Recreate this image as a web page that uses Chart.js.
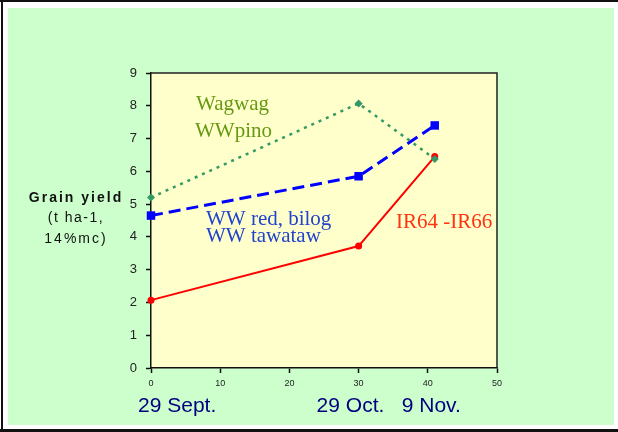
<!DOCTYPE html>
<html>
<head>
<meta charset="utf-8">
<script src="https://cdn.jsdelivr.net/npm/chart.js@4"></script>
<style>
  html, body { margin: 0; padding: 0; background: #ffffff; }
  #wrap { width: 618px; height: 432px; position: relative; }
</style>
</head>
<body>
<div id="wrap"><canvas id="c" width="618" height="432"></canvas></div>
<script>
// Days after 29 September when each crop was sown
const sowingDays = [0, 30, 41];
const dateLabels = ['29 Sept.', '29 Oct.', '9 Nov.'];

// Grain yield (t/ha, 14% moisture) per variety group
const wagwagYield = [5.2, 8.07, 6.38];
const wwRedYield  = [4.65, 5.85, 7.4];
const irYield     = [2.07, 3.72, 6.45];

const groupNames = [['Wagwag', 'WWpino'], ['WW red, bilog', 'WW tawataw'], ['IR64 -IR66']];
const yTitle = ['Grain yield', '(t ha-1,', '14%mc)'];
const yTicks = [0, 1, 2, 3, 4, 5, 6, 7, 8, 9];
const xTicks = [0, 10, 20, 30, 40, 50];

const toPoints = (ys) => sowingDays.map((d, i) => ({ x: d, y: ys[i] }));

// Page frame, green panel and the yellow plot box
const framePlugin = {
  id: 'frame',
  beforeDraw(chart) {
    const { ctx, chartArea: a } = chart;
    ctx.save();
    ctx.fillStyle = '#ffffff';
    ctx.fillRect(0, 0, 618, 432);
    ctx.fillStyle = '#ccffcc';
    ctx.fillRect(8, 8, 606, 417);
    // dark rule on top, left and bottom
    ctx.fillStyle = '#111111';
    ctx.fillRect(0, 0, 618, 2);
    ctx.fillRect(1, 0, 2, 432);
    ctx.fillRect(0, 429, 618, 3);
    ctx.fillStyle = '#ffffcc';
    ctx.fillRect(a.left, a.top, a.right - a.left, a.bottom - a.top);
    ctx.restore();
  },
  afterDatasetsDraw(chart) {
    const { ctx, chartArea: a } = chart;
    ctx.save();
    ctx.strokeStyle = '#222222';
    ctx.lineWidth = 1.5;
    ctx.beginPath();
    ctx.moveTo(a.left, a.top);
    ctx.lineTo(a.right, a.top);
    ctx.lineTo(a.right, a.bottom);
    ctx.stroke();
    ctx.restore();
  }
};

// Axis title, group names and sowing dates
const textPlugin = {
  id: 'texts',
  afterDraw(chart) {
    const { ctx, scales } = chart;
    ctx.save();
    ctx.textBaseline = 'middle';
    ctx.textAlign = 'center';
    ctx.fillStyle = '#111111';
    ctx.letterSpacing = '2px';
    ctx.font = 'bold 14px "Liberation Sans", Arial, sans-serif';
    ctx.fillText(yTitle[0], 76, 198);
    ctx.letterSpacing = '1.5px';
    ctx.font = '14px "Liberation Sans", Arial, sans-serif';
    ctx.fillText(yTitle[1], 76, 218);
    ctx.letterSpacing = '2px';
    ctx.fillText(yTitle[2], 76, 239);
    ctx.letterSpacing = '0px';

    ctx.textAlign = 'left';
    ctx.font = '21px "Liberation Serif", "Times New Roman", serif';
    ctx.fillStyle = '#669911';
    ctx.fillText(groupNames[0][0], 196, 104);
    ctx.fillText(groupNames[0][1], 195, 131);
    ctx.fillStyle = '#2244cc';
    ctx.fillText(groupNames[1][0], 206, 219);
    ctx.fillText(groupNames[1][1], 206, 236);
    ctx.fillStyle = '#ff3311';
    ctx.fillText(groupNames[2][0], 396, 222);

    ctx.fillStyle = '#000080';
    ctx.font = '21px "Liberation Sans", Arial, sans-serif';
    const offsets = [-13, -42, -33];
    sowingDays.forEach((d, i) => {
      ctx.fillText(dateLabels[i], scales.x.getPixelForValue(d) + offsets[i], 406);
    });
    ctx.restore();
  }
};

new Chart(document.getElementById('c'), {
  type: 'scatter',
  data: {
    datasets: [
      {
        label: groupNames[0].join(' '),
        data: toPoints(wagwagYield),
        showLine: true,
        borderColor: '#339966',
        backgroundColor: '#339966',
        borderWidth: 2.5,
        borderDash: [3, 5],
        pointStyle: 'rectRot',
        pointRadius: 4,
        pointBorderWidth: 0,
        clip: false
      },
      {
        label: groupNames[1].join(' '),
        data: toPoints(wwRedYield),
        showLine: true,
        borderColor: '#0000ff',
        backgroundColor: '#0000ff',
        borderWidth: 3,
        borderDash: [12, 6],
        pointStyle: 'rect',
        pointRadius: 6,
        pointBorderWidth: 0,
        clip: false
      },
      {
        label: groupNames[2][0],
        data: toPoints(irYield),
        showLine: true,
        borderColor: '#ff0000',
        backgroundColor: '#ff0000',
        borderWidth: 2,
        pointStyle: 'circle',
        pointRadius: 3.5,
        pointBorderWidth: 0,
        clip: false
      }
    ]
  },
  options: {
    responsive: false,
    animation: false,
    events: [],
    layout: { padding: { left: 0, right: 121, top: 73, bottom: 44 } },
    plugins: { legend: { display: false }, tooltip: { enabled: false } },
    scales: {
      x: {
        type: 'linear',
        min: 0,
        max: 50,
        afterBuildTicks: (s) => { s.ticks = xTicks.map(v => ({ value: v })); },
        afterFit: (s) => { s.height = 20; },
        grid: { drawOnChartArea: false, color: '#111111', tickLength: 5, tickWidth: 1.5 },
        border: { color: '#111111', width: 1.5 },
        ticks: { font: { size: 9, family: '"Liberation Sans", Arial, sans-serif' }, color: '#222222', padding: 5, maxRotation: 0 }
      },
      y: {
        min: 0,
        max: 9,
        afterBuildTicks: (s) => { s.ticks = yTicks.map(v => ({ value: v })); },
        afterFit: (s) => { s.width = 151; },
        grid: { drawOnChartArea: false, color: '#111111', tickLength: 5, tickWidth: 1.5 },
        border: { color: '#111111', width: 1.5 },
        ticks: { font: { size: 13, family: '"Liberation Sans", Arial, sans-serif' }, color: '#222222', padding: 9 }
      }
    }
  },
  plugins: [framePlugin, textPlugin]
});
</script>
</body>
</html>
